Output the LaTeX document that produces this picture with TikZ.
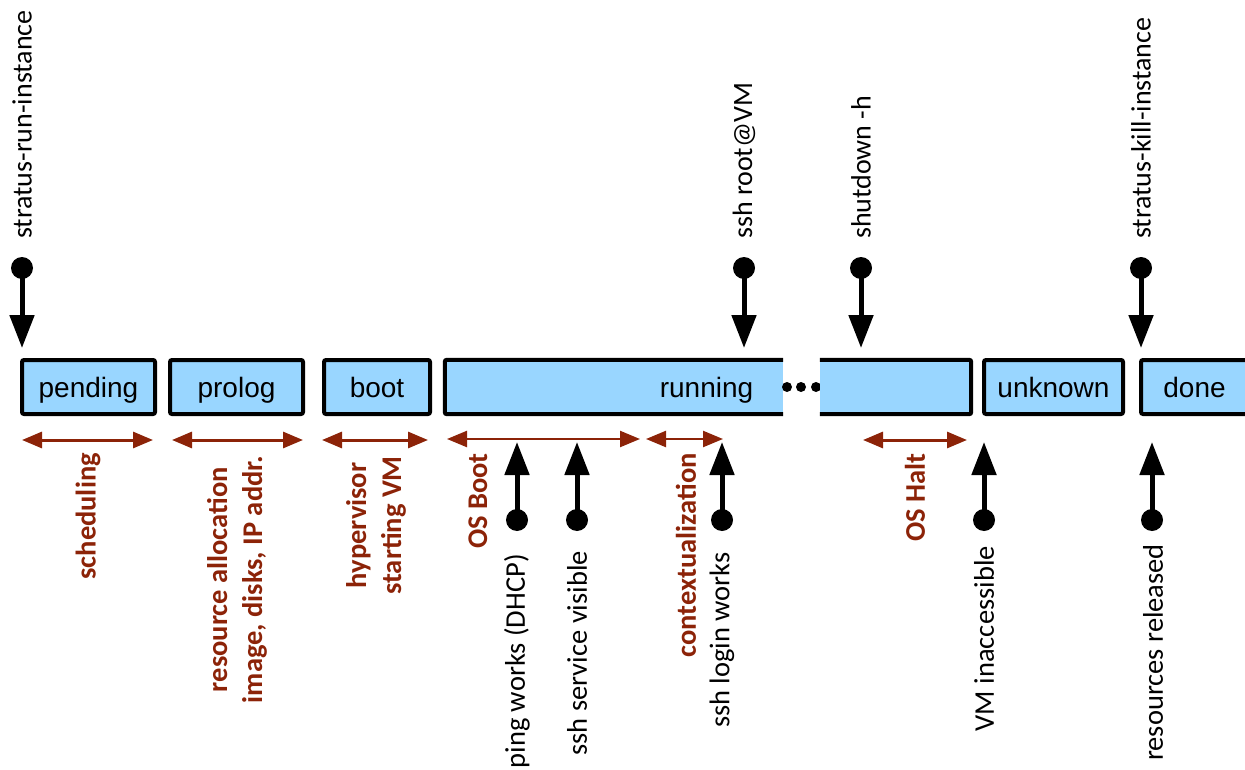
\documentclass[tikz,border=0pt]{standalone}
\usepackage{fontspec}
\setmainfont{Liberation Sans}
\newfontfamily\notefont{Carlito}
\usetikzlibrary{arrows.meta}
\definecolor{stateblue}{RGB}{153,214,255}
\definecolor{phasered}{RGB}{140,35,8}
\tikzset{
  sblock/.style={rectangle, draw=black, fill=stateblue, line width=4pt,
                 minimum height=54pt, inner sep=0pt, rounded corners=2pt,
                 text height=22pt, text depth=2pt,
                 font=\fontsize{28}{30}\selectfont},
  sfill/.style={rectangle, draw=none, fill=stateblue, minimum height=54pt,
                inner sep=0pt},
  sedge/.style={line width=4pt, rounded corners=2pt},
  slabel/.style={inner sep=0pt, text height=22pt, text depth=2pt,
                 font=\fontsize{28}{30}\selectfont},
  evdot/.style={circle, fill=black, minimum size=22pt, inner sep=0pt},
  evarrow/.style={-{Triangle[length=33pt,width=24pt]}, line width=5pt},
  spanarrow/.style={{Triangle[length=20pt,width=16pt]}-{Triangle[length=20pt,width=16pt]},
                    line width=3pt, phasered},
  cmdtext/.style={rotate=90, anchor=west, inner sep=0pt,
                  font=\notefont\fontsize{28}{32}\selectfont},
  evtext/.style={rotate=90, anchor=east, inner sep=0pt,
                 font=\notefont\fontsize{28.5}{32}\selectfont},
  phaselabel/.style={rotate=90, anchor=east, inner sep=0pt, align=center, text=phasered,
                     font=\notefont\bfseries\fontsize{28.5}{35}\selectfont},
}
\begin{document}
\begin{tikzpicture}[x=1pt, y=-1pt]
  \useasboundingbox (0,0) rectangle (1245,770);
  \node[sblock, minimum width=133pt] (pend) at (88.5,387) {pending};
  \node[sblock, minimum width=133pt] (prol) at (236.5,387) {prolog};
  \node[sblock, minimum width=106pt] (boot) at (377,387) {boot};
  \node[sfill, minimum width=338pt] (run) at (614,387) {};
  \draw[sedge] (run.north east) -- (run.north west) -- (run.south west) -- (run.south east);
  \node[slabel] (runlbl) at (706.5,387) {running};
  \foreach \x in {787,801,816} \fill (\x,387) circle (5pt);
  \node[sfill, minimum width=151pt] (halt) at (895.5,387) {};
  \draw[sedge] (halt.north west) -- (halt.north east) -- (halt.south east) -- (halt.south west);
  \node[sblock, minimum width=139pt] (unkn) at (1053.5,387) {unknown};
  \node[sblock, minimum width=107pt] (done) at (1194.5,387) {done};

  \node[evdot] (srdot) at (22,268) {};
  \coordinate (srtip) at (22,348);
  \node[evdot] (sshdot) at (744,268) {};
  \coordinate (sshtip) at (744,348);
  \node[evdot] (shdot) at (861,268) {};
  \coordinate (shtip) at (861,348);
  \node[evdot] (skdot) at (1141,268) {};
  \coordinate (sktip) at (1141,348);
  \draw[evarrow] (srdot.center) -- (srtip);
  \draw[evarrow] (sshdot.center) -- (sshtip);
  \draw[evarrow] (shdot.center) -- (shtip);
  \draw[evarrow] (skdot.center) -- (sktip);
  \node[cmdtext] (srlbl) at (22,239) {stratus-run-instance};
  \node[cmdtext] (sshlbl) at (744,239) {ssh root@VM};
  \node[cmdtext] (shlbl) at (861,239) {shutdown -h};
  \node[cmdtext] (sklbl) at (1141,239) {stratus-kill-instance};

  \node[evdot] (pingdot) at (517,520) {};
  \coordinate (pingtip) at (517,442);
  \node[evdot] (sshvdot) at (577,520) {};
  \coordinate (sshvtip) at (577,442);
  \node[evdot] (logdot) at (722,520) {};
  \coordinate (logtip) at (722,442);
  \node[evdot] (inacdot) at (984,520) {};
  \coordinate (inactip) at (984,442);
  \node[evdot] (reldot) at (1152,520) {};
  \coordinate (reltip) at (1152,442);
  \draw[evarrow] (pingdot.center) -- (pingtip);
  \draw[evarrow] (sshvdot.center) -- (sshvtip);
  \draw[evarrow] (logdot.center) -- (logtip);
  \draw[evarrow] (inacdot.center) -- (inactip);
  \draw[evarrow] (reldot.center) -- (reltip);
  \node[evtext] (pinglbl) at (517,554) {ping works (DHCP)};
  \node[evtext] (sshvlbl) at (577,551) {ssh service visible};
  \node[evtext] (loglbl) at (722,552) {ssh login works};
  \node[evtext] (inaclbl) at (984,546) {VM inaccessible};
  \node[evtext] (rellbl) at (1153,544) {resources released};

  \coordinate (schl) at (22,440);
  \coordinate (schr) at (153,440);
  \coordinate (prol1) at (172,440);
  \coordinate (prol2) at (303,440);
  \coordinate (hypl) at (322,440);
  \coordinate (hypr) at (428,440);
  \coordinate (osbl) at (447,439);
  \coordinate (osbr) at (640,439);
  \coordinate (ctxl) at (646,439);
  \coordinate (ctxr) at (723,439);
  \coordinate (oshl) at (863,440);
  \coordinate (oshr) at (967,440);
  \draw[spanarrow] (schl) -- (schr);
  \draw[spanarrow] (prol1) -- (prol2);
  \draw[spanarrow] (hypl) -- (hypr);
  \draw[spanarrow, line width=2.3pt] (osbl) -- (osbr);
  \draw[spanarrow, line width=2.3pt] (ctxl) -- (ctxr);
  \draw[spanarrow] (oshl) -- (oshr);
  \node[phaselabel] (schlbl) at (88,453) {scheduling};
  \node[phaselabel] (prollbl) at (237,456) {resource allocation\\image, disks, IP addr.};
  \node[phaselabel] (hyplbl) at (376,456) {hypervisor\\starting VM};
  \node[phaselabel] (osblbl) at (478,453) {OS Boot};
  \node[phaselabel] (ctxlbl) at (686,453) {contextualization};
  \node[phaselabel] (oshlbl) at (915,453) {OS Halt};
\end{tikzpicture}
\end{document}
